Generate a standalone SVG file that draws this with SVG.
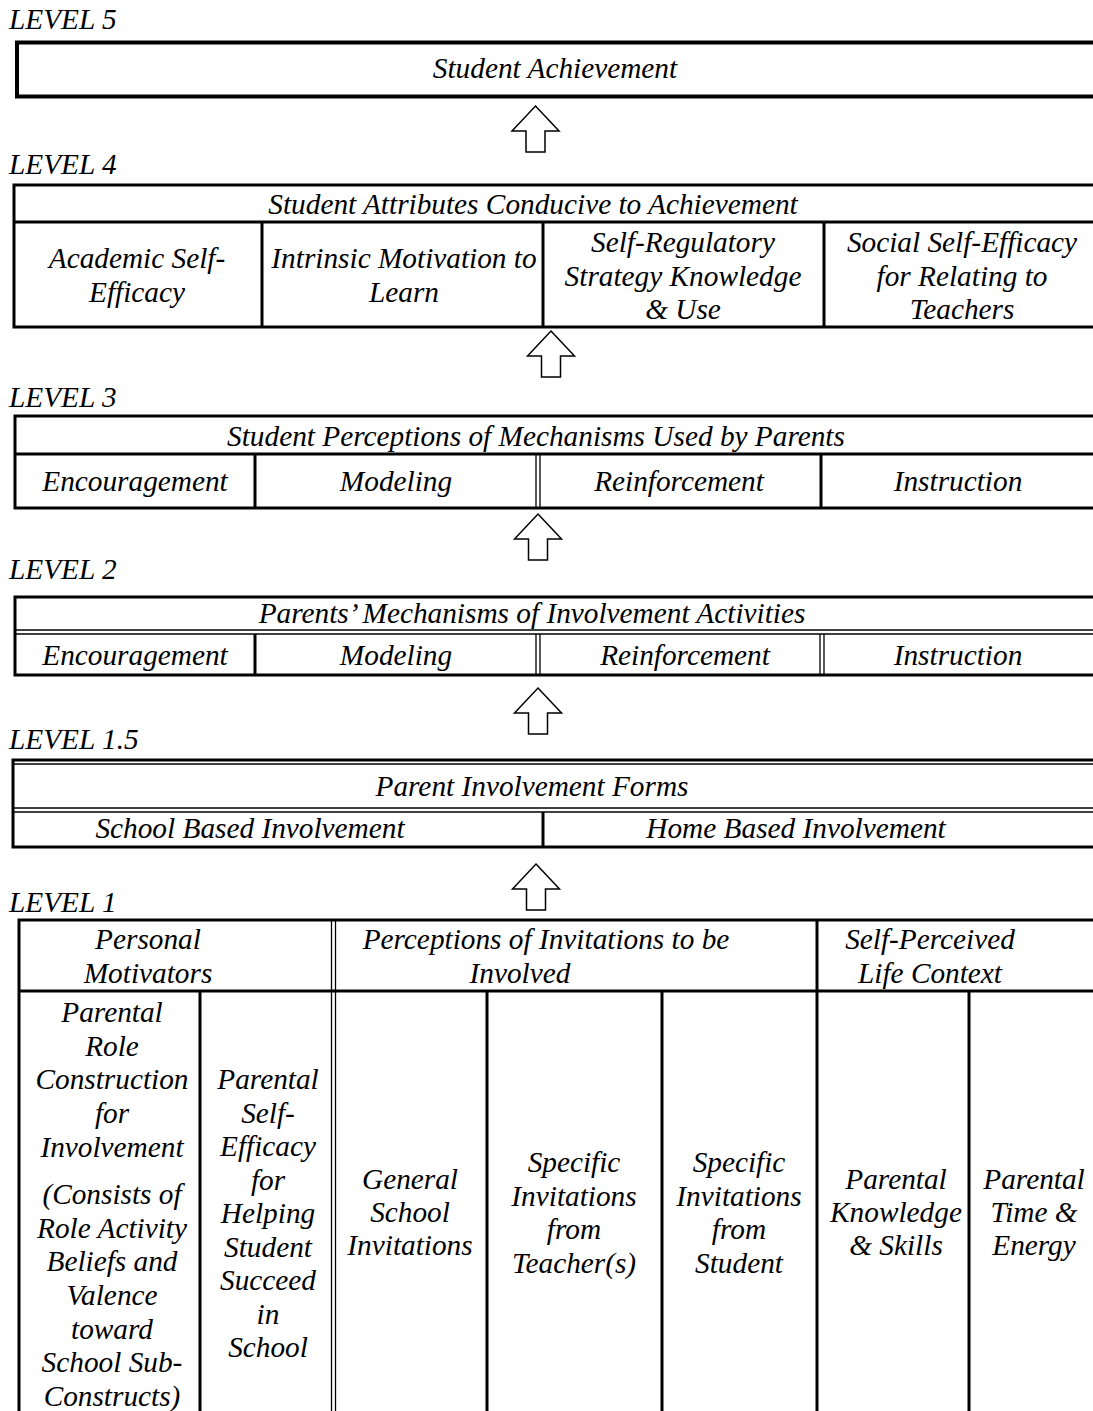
<svg xmlns="http://www.w3.org/2000/svg" width="1093" height="1411" viewBox="0 0 1093 1411">
<style>
.t{font-family:"Liberation Serif","Times New Roman",serif;font-style:italic;font-size:29.3px;fill:#000;text-anchor:middle}
.lab{font-family:"Liberation Serif","Times New Roman",serif;font-style:italic;font-size:29.3px;fill:#000}
.b{stroke:#000;stroke-width:3;fill:none}
.b4{stroke:#000;stroke-width:4;fill:none}
.th{stroke:#000;stroke-width:1.3;fill:none}
.ar{fill:#fff;stroke:#000;stroke-width:1.5;stroke-linejoin:miter}
</style>
<rect width="1093" height="1411" fill="#fff"/>

<g id="level5">
<text class="lab" x="9" y="29">LEVEL 5</text>
<rect class="b4" x="17" y="42.5" width="1090" height="54"/>
<text class="t" x="555" y="78">Student Achievement</text>
</g>

<g id="level4">
<text class="lab" x="9" y="174">LEVEL 4</text>
<rect class="b" x="14" y="185" width="1090" height="142"/>
<line class="b" x1="14" y1="222" x2="1104" y2="222"/>
<line class="b" x1="262" y1="222" x2="262" y2="327"/>
<line class="b" x1="543" y1="222" x2="543" y2="327"/>
<line class="b" x1="824" y1="222" x2="824" y2="327"/>
<text class="t" x="533" y="214">Student Attributes Conducive to Achievement</text>
<text class="t" x="137" y="268">Academic Self-<tspan x="137" dy="34">Efficacy</tspan></text>
<text class="t" x="404" y="268">Intrinsic Motivation to<tspan x="404" dy="34">Learn</tspan></text>
<text class="t" x="683" y="252">Self-Regulatory<tspan x="683" dy="33.5">Strategy Knowledge</tspan><tspan x="683" dy="33.5">&amp; Use</tspan></text>
<text class="t" x="962" y="252">Social Self-Efficacy<tspan x="962" dy="33.5">for Relating to</tspan><tspan x="962" dy="33.5">Teachers</tspan></text>
</g>

<g id="level3">
<text class="lab" x="9" y="407">LEVEL 3</text>
<rect class="b" x="15" y="416" width="1090" height="92"/>
<line class="b" x1="15" y1="454" x2="1105" y2="454"/>
<line class="b" x1="255" y1="454" x2="255" y2="508"/>
<line class="th" x1="536" y1="454" x2="536" y2="508"/>
<line class="th" x1="540" y1="454" x2="540" y2="508"/>
<line class="b" x1="821" y1="454" x2="821" y2="508"/>
<text class="t" x="536" y="446">Student Perceptions of Mechanisms Used by Parents</text>
<text class="t" x="135" y="491">Encouragement</text>
<text class="t" x="396" y="491">Modeling</text>
<text class="t" x="679" y="491">Reinforcement</text>
<text class="t" x="958" y="491">Instruction</text>
</g>

<g id="level2">
<text class="lab" x="9" y="579">LEVEL 2</text>
<rect class="b" x="15" y="597" width="1090" height="78"/>
<line class="th" x1="15" y1="630" x2="1105" y2="630"/>
<line class="th" x1="15" y1="634" x2="1105" y2="634"/>
<line class="b" x1="255" y1="634" x2="255" y2="675"/>
<line class="th" x1="536" y1="634" x2="536" y2="675"/>
<line class="th" x1="540" y1="634" x2="540" y2="675"/>
<line class="th" x1="820" y1="634" x2="820" y2="675"/>
<line class="th" x1="824" y1="634" x2="824" y2="675"/>
<text class="t" x="532" y="623">Parents’ Mechanisms of Involvement Activities</text>
<text class="t" x="135" y="665">Encouragement</text>
<text class="t" x="396" y="665">Modeling</text>
<text class="t" x="685" y="665">Reinforcement</text>
<text class="t" x="958" y="665">Instruction</text>
</g>

<g id="level1_5">
<text class="lab" x="9" y="749">LEVEL 1.5</text>
<rect class="b" x="13" y="760" width="1092" height="87"/>
<line class="th" x1="13" y1="764" x2="1105" y2="764"/>
<line class="th" x1="13" y1="808" x2="1105" y2="808"/>
<line class="th" x1="13" y1="812" x2="1105" y2="812"/>
<line class="b" x1="543" y1="812" x2="543" y2="847"/>
<text class="t" x="532" y="796">Parent Involvement Forms</text>
<text class="t" x="250" y="838">School Based Involvement</text>
<text class="t" x="796" y="838">Home Based Involvement</text>
</g>

<g id="level1">
<text class="lab" x="9" y="912">LEVEL 1</text>
<path class="b" d="M19 1415 V920 H1105"/>
<line class="b" x1="19" y1="991" x2="1105" y2="991"/>
<line class="th" x1="331.5" y1="920" x2="331.5" y2="1415"/>
<line class="th" x1="335.5" y1="920" x2="335.5" y2="1415"/>
<line class="b" x1="817" y1="920" x2="817" y2="1415"/>
<line class="b" x1="200" y1="991" x2="200" y2="1415"/>
<line class="b" x1="487" y1="991" x2="487" y2="1415"/>
<line class="b" x1="662" y1="991" x2="662" y2="1415"/>
<line class="b" x1="969" y1="991" x2="969" y2="1415"/>
<text class="t" x="148" y="949">Personal<tspan x="148" dy="34">Motivators</tspan></text>
<text class="t" x="546" y="949">Perceptions of Invitations to be<tspan x="520" dy="34">Involved</tspan></text>
<text class="t" x="930" y="949">Self-Perceived<tspan x="930" dy="34">Life Context</tspan></text>
<text class="t" x="112" y="1022">Parental<tspan x="112" dy="33.7">Role</tspan><tspan x="112" dy="33.7">Construction</tspan><tspan x="112" dy="33.7">for</tspan><tspan x="112" dy="33.7">Involvement</tspan><tspan x="112" dy="47">(Consists of</tspan><tspan x="112" dy="33.7">Role Activity</tspan><tspan x="112" dy="33.7">Beliefs and</tspan><tspan x="112" dy="33.7">Valence</tspan><tspan x="112" dy="33.7">toward</tspan><tspan x="112" dy="33.7">School Sub-</tspan><tspan x="112" dy="33.7">Constructs)</tspan></text>
<text class="t" x="268" y="1089">Parental<tspan x="268" dy="33.5">Self-</tspan><tspan x="268" dy="33.5">Efficacy</tspan><tspan x="268" dy="33.5">for</tspan><tspan x="268" dy="33.5">Helping</tspan><tspan x="268" dy="33.5">Student</tspan><tspan x="268" dy="33.5">Succeed</tspan><tspan x="268" dy="33.5">in</tspan><tspan x="268" dy="33.5">School</tspan></text>
<text class="t" x="410" y="1189">General<tspan x="410" dy="33">School</tspan><tspan x="410" dy="33">Invitations</tspan></text>
<text class="t" x="574" y="1172">Specific<tspan x="574" dy="33.5">Invitations</tspan><tspan x="574" dy="33.5">from</tspan><tspan x="574" dy="33.5">Teacher(s)</tspan></text>
<text class="t" x="739" y="1172">Specific<tspan x="739" dy="33.5">Invitations</tspan><tspan x="739" dy="33.5">from</tspan><tspan x="739" dy="33.5">Student</tspan></text>
<text class="t" x="896" y="1189">Parental<tspan x="896" dy="33">Knowledge</tspan><tspan x="896" dy="33">&amp; Skills</tspan></text>
<text class="t" x="1034" y="1189">Parental<tspan x="1034" dy="33">Time &amp;</tspan><tspan x="1034" dy="33">Energy</tspan></text>
</g>

<g id="connectors">
<polygon class="ar" points="535.5,106 559,131 545,131 545,152 526,152 526,131 512,131"/>
<polygon class="ar" points="551,331 574.5,356 560.5,356 560.5,377 541.5,377 541.5,356 527.5,356"/>
<polygon class="ar" points="538,514 561.5,539 547.5,539 547.5,560 528.5,560 528.5,539 514.5,539"/>
<polygon class="ar" points="538,688 561.5,713 547.5,713 547.5,734 528.5,734 528.5,713 514.5,713"/>
<polygon class="ar" points="536,864 559.5,889 545.5,889 545.5,910 526.5,910 526.5,889 512.5,889"/>
</g>
</svg>
